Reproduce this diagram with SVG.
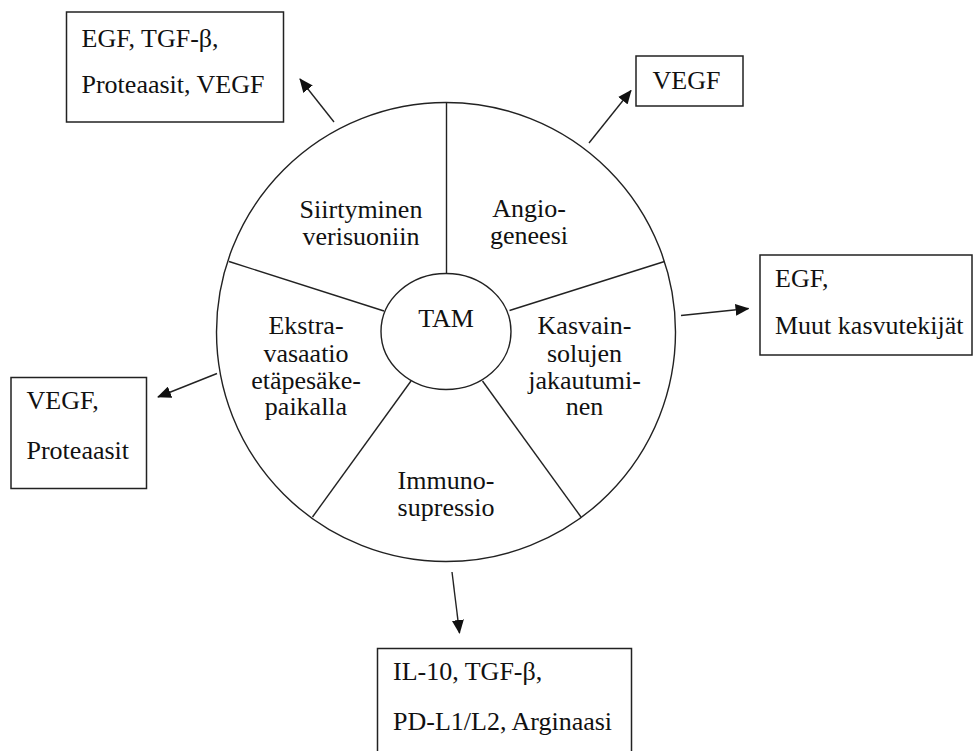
<svg xmlns="http://www.w3.org/2000/svg" width="974" height="751" viewBox="0 0 974 751">
<style>
text{font-family:"Liberation Serif","Times New Roman",serif;font-size:26px;fill:#111}
.c{text-anchor:middle}
.box{fill:#fff;stroke:#222;stroke-width:1.5}
.ln{fill:none;stroke:#222;stroke-width:1.4}
.ar{fill:none;stroke:#222;stroke-width:1.4;marker-end:url(#ah)}
</style>
<defs>
<marker id="ah" markerWidth="14" markerHeight="12" refX="13" refY="6" orient="auto" markerUnits="userSpaceOnUse">
<path d="M0,0 L14,6 L0,12 Z" fill="#111"/>
</marker>
</defs>
<rect width="974" height="751" fill="#fff"/>
<g id="wheel">
<circle cx="446" cy="332" r="229.5" class="ln"/>
<line x1="446.5" y1="102.5" x2="446.5" y2="273" class="ln"/>
<line x1="664.5" y1="261.5" x2="509.5" y2="310.5" class="ln"/>
<line x1="229" y1="261.5" x2="384" y2="311" class="ln"/>
<line x1="312.5" y1="517" x2="411" y2="381" class="ln"/>
<line x1="581" y1="517" x2="482.5" y2="381" class="ln"/>
</g>
<g id="tam">
<ellipse cx="446" cy="331.5" rx="65" ry="58" class="ln" fill="#fff"/>
<text x="446" y="327" class="c">TAM</text>
</g>
<g id="seg-siirtyminen">
<text x="361" y="218" class="c">Siirtyminen</text>
<text x="361" y="245" class="c">verisuoniin</text>
</g>
<g id="seg-angiogeneesi">
<text x="529" y="217" class="c">Angio-</text>
<text x="529" y="244" class="c">geneesi</text>
</g>
<g id="seg-ekstravasaatio">
<text x="306" y="334" class="c">Ekstra-</text>
<text x="306" y="361.5" class="c">vasaatio</text>
<text x="306" y="388.5" class="c">etäpesäke-</text>
<text x="306" y="415" class="c">paikalla</text>
</g>
<g id="seg-kasvain">
<text x="584.5" y="334" class="c">Kasvain-</text>
<text x="584.5" y="361.5" class="c">solujen</text>
<text x="584.5" y="388.5" class="c">jakautumi-</text>
<text x="584.5" y="415" class="c">nen</text>
</g>
<g id="seg-immuno">
<text x="446" y="489" class="c">Immuno-</text>
<text x="446" y="516" class="c">supressio</text>
</g>
<g id="box-topleft">
<rect x="66.5" y="12" width="217" height="110" class="box"/>
<text x="81.5" y="46.5">EGF, TGF-β,</text>
<text x="81.5" y="93">Proteaasit, VEGF</text>
</g>
<g id="box-topright">
<rect x="636" y="56" width="107" height="50" class="box"/>
<text x="652.5" y="88.5">VEGF</text>
</g>
<g id="box-right">
<rect x="760" y="255" width="212" height="100" class="box"/>
<text x="775" y="286.5">EGF,</text>
<text x="775" y="333.5">Muut kasvutekijät</text>
</g>
<g id="box-left">
<rect x="11" y="377.5" width="135.5" height="111" class="box"/>
<text x="26.5" y="409">VEGF,</text>
<text x="26.5" y="458.5">Proteaasit</text>
</g>
<g id="box-bottom">
<rect x="377.5" y="648.5" width="254" height="110" class="box"/>
<text x="393" y="679.5">IL-10, TGF-β,</text>
<text x="393" y="730">PD-L1/L2, Arginaasi</text>
</g>
<g id="connectors">
<line x1="334" y1="122" x2="300" y2="79" class="ar"/>
<line x1="589" y1="143" x2="631" y2="90.5" class="ar"/>
<line x1="681" y1="315.5" x2="748.5" y2="308.5" class="ar"/>
<line x1="217" y1="373.5" x2="158" y2="397" class="ar"/>
<line x1="452" y1="572" x2="459.5" y2="633" class="ar"/>
</g>
</svg>
